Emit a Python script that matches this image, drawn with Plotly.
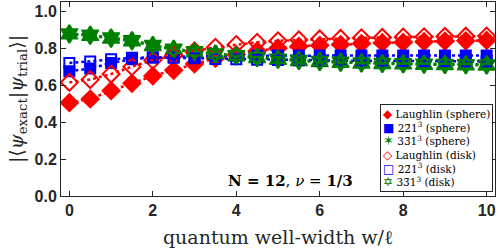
import plotly.graph_objects as go

x_width = [0, 0.5, 1, 1.5, 2, 2.5, 3, 3.5, 4, 4.5, 5, 5.5, 6, 6.5, 7, 7.5, 8, 8.5, 9, 9.5, 10]

laughlin_sphere = [0.505, 0.525, 0.57, 0.61, 0.65, 0.68, 0.715, 0.745, 0.765, 0.785, 0.80,
                   0.81, 0.815, 0.82, 0.825, 0.83, 0.832, 0.835, 0.838, 0.84, 0.842]
s221_sphere = [0.675, 0.69, 0.72, 0.74, 0.75, 0.755, 0.757, 0.758, 0.759, 0.76, 0.76,
               0.76, 0.76, 0.76, 0.76, 0.76, 0.76, 0.76, 0.76, 0.76, 0.76]
s331_sphere = [0.875, 0.868, 0.852, 0.838, 0.812, 0.792, 0.778, 0.766, 0.756, 0.747, 0.738,
               0.731, 0.726, 0.722, 0.718, 0.715, 0.713, 0.711, 0.709, 0.708, 0.707]
laughlin_disk = [0.615, 0.63, 0.66, 0.70, 0.735, 0.76, 0.785, 0.805, 0.82, 0.832, 0.84,
                 0.845, 0.85, 0.853, 0.856, 0.858, 0.86, 0.862, 0.864, 0.865, 0.866]
s221_disk = [0.72, 0.728, 0.74, 0.748, 0.75, 0.748, 0.745, 0.742, 0.74, 0.738, 0.736,
             0.735, 0.734, 0.733, 0.732, 0.731, 0.73, 0.73, 0.73, 0.729, 0.729]
s331_disk = [0.879, 0.872, 0.857, 0.843, 0.817, 0.797, 0.783, 0.771, 0.761, 0.752, 0.743,
             0.736, 0.731, 0.727, 0.723, 0.72, 0.718, 0.716, 0.714, 0.713, 0.712]

names = ["Laughlin (sphere)", "22\u03041<sup>3</sup> (sphere)", "33\u03041<sup>3</sup> (sphere)",
         "Laughlin (disk)", "22\u03041<sup>3</sup> (disk)", "33\u03041<sup>3</sup> (disk)"]

RED, BLUE, GREEN = "#ff0000", "#0000ff", "#008000"
series = [
    (laughlin_sphere, RED, "diamond", 13, "\u25c6", 12),
    (s221_sphere, BLUE, "square", 10, "\u25a0", 12),
    (s331_sphere, GREEN, "hexagram", 13, "\u2736", 13),
    (laughlin_disk, RED, "diamond-open", 13, "\u25c7", 12),
    (s221_disk, BLUE, "square-open", 10, "\u25a1", 12),
    (s331_disk, GREEN, "hexagram-open", 13, "\u2721", 12),
]

fig = go.Figure()
for (ys, col, sym, sz, _g, _gs), nm in zip(series, names):
    fig.add_trace(go.Scatter(
        x=x_width, y=ys, name=nm, mode="lines+markers", showlegend=False,
        line=dict(color=col, width=2.5, dash="dot"),
        marker=dict(symbol=sym, size=sz, color=col, line=dict(color=col, width=2)),
    ))

# compact legend box (markers only, tight rows as in the reference)
legend_lines = []
for (ys, col, sym, sz, glyph, gsize), nm in zip(series, names):
    legend_lines.append(
        f'<span style="color:{col};font-family:DejaVu Sans;font-size:{gsize}px">{glyph}</span> {nm}'
    )
legend_text = "<br>".join(legend_lines)

axis_common = dict(
    showline=True, linecolor="#262626", linewidth=1, mirror="ticks",
    ticks="inside", ticklen=5, tickcolor="#262626", showgrid=False, zeroline=False,
    tickfont=dict(family="Liberation Sans, Arial", size=16, color="#262626", weight="bold"),
)

fig.update_layout(
    width=498, height=249,
    margin=dict(l=61, r=3, t=2, b=53),
    paper_bgcolor="white", plot_bgcolor="white",
    xaxis=dict(range=[-0.2, 10.2], tickvals=[0, 2, 4, 6, 8, 10],
               title=dict(text="quantum well-width w/ℓ", standoff=12,
                          font=dict(family="DejaVu Serif, serif", size=19, color="#262626")),
               **axis_common),
    yaxis=dict(range=[0, 1.05], tickvals=[0, 0.2, 0.4, 0.6, 0.8, 1.0], tickformat=".1f",
               title=dict(text="|⟨<i>ψ</i><sub>exact</sub>|<i>ψ</i><sub>trial</sub>⟩|", standoff=5,
                          font=dict(family="DejaVu Serif, serif", size=19, color="#262626")),
               **axis_common),
    showlegend=False,
    annotations=[
        dict(
            x=(355 - 61) / (498 - 61 - 3), y=0.02, xref="paper", yref="y", showarrow=False,
            text="<b>N = 12</b>, <i>ν</i> = <b>1/3</b>",
            font=dict(family="DejaVu Serif, serif", size=15, color="black"),
            xanchor="right", yanchor="bottom",
        ),
        dict(
            x=(493 - 61) / (498 - 61 - 3), y=(196 - 192) / 194, xref="paper", yref="paper",
            xanchor="right", yanchor="bottom", showarrow=False, align="left",
            text=legend_text,
            font=dict(family="DejaVu Serif, serif", size=10.5, color="black"),
            bgcolor="white", bordercolor="#262626", borderwidth=1, borderpad=2,
        ),
    ],
)

fig.write_html("out.html", config={"displayModeBar": False},
               post_script="document.body.style.margin='0';")
